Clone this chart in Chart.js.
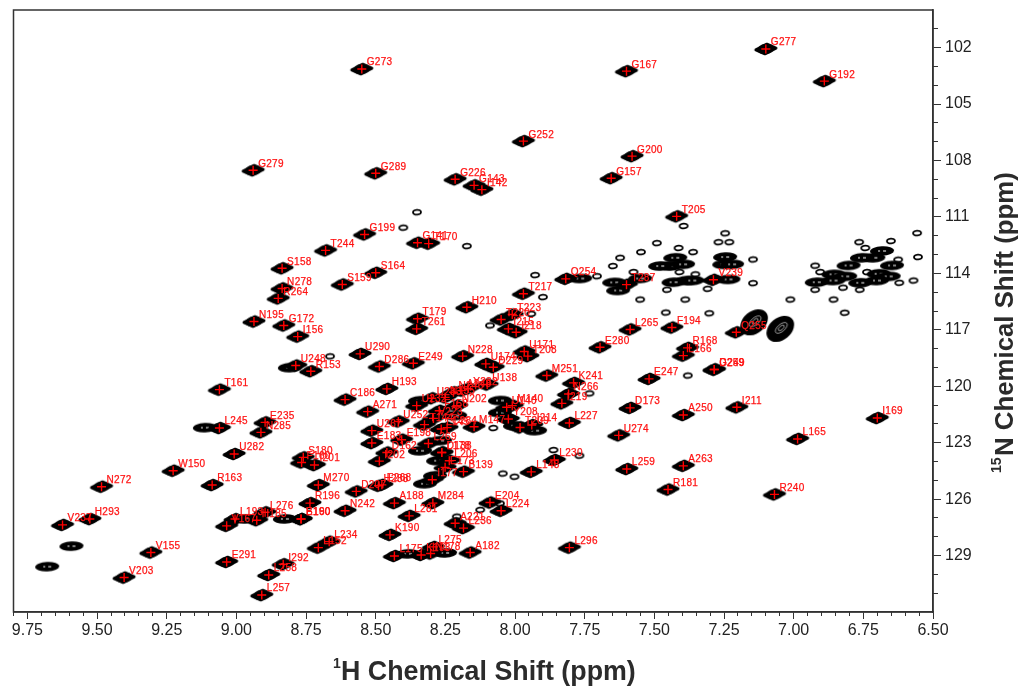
<!DOCTYPE html>
<html>
<head>
<meta charset="utf-8">
<title>HSQC</title>
<script src="https://cdn.jsdelivr.net/npm/chart.js@4"></script>
<style>
  html, body { margin: 0; padding: 0; background: #fff; }
  canvas { display: block; }
</style>
</head>
<body>
<canvas id="hsqc" width="1019" height="688"></canvas>
<script>
// assigned peaks
const peakNames = [
  'G277','G192','G273','G167','G252','G200','G157','G279','G289','G226',
  'G143','I142','T205','G199','G141','T170','T244','S158','S159','S164',
  'N278','R264','N195','G172','I156','U290','D286','E249','T179','T261',
  'H210','T217','Q254','T223','T220','I215','I218','U171','T208','N228',
  'U174','D229','M251','K241','N266','I219','H193','U138','C186','A271',
  'T161','L245','E235','N285','U282','R163','S180','F160','I201','M270',
  'R196','N242','D207','H288','E268','A188','M284','L281','K190','L175',
  'L275','K193','N178','A182','A221','L236','E204','L224','L296','L234',
  'L152','V167','L193','H185','L276','E160','B190','W150','N272','V237',
  'H293','V155','V203','E291','I292','L258','L257','T287','V239','L265',
  'F194','E280','Q255','R168','L166','D259','G249','E247','D173','A250',
  'I211','I169','L165','U274','L227','L259','A263','R181','R240','L230',
  'L148','U232','U252','U267','E183','E198','D162','I202','L269','L178',
  'D138','L206','E173','B139','I177','N246','N155','A248','Y232','N202',
  'U233','F158','V223','T144','L145','C284','M147','U140','M140','Y208',
  'T209','I214','U248','R153'
];
const peakH = [
  7.10,6.89,8.55,7.60,7.97,7.58,7.655,8.94,8.50,8.215,
  8.147,8.119,7.42,8.54,8.35,8.31,8.68,8.836,8.62,8.50,
  8.836,8.85,8.937,8.83,8.78,8.556,8.487,8.365,8.35,8.353,
  8.173,7.97,7.818,8.01,8.05,8.024,7.996,7.967,7.954,8.188,
  8.105,8.078,7.886,7.79,7.808,7.832,8.46,8.10,8.61,8.529,
  9.061,9.061,8.897,8.912,9.008,9.087,8.76,8.766,8.72,8.706,
  8.736,8.61,8.57,8.49,8.478,8.433,8.295,8.38,8.449,8.433,
  8.293,8.337,8.303,8.161,8.215,8.185,8.09,8.05,7.805,8.667,
  8.706,9.035,9.005,8.927,8.897,8.768,8.768,9.227,9.484,9.624,
  9.526,9.307,9.403,9.035,8.832,8.884,8.909,7.60,7.288,7.587,
  7.437,7.695,7.206,7.381,7.396,7.285,7.285,7.519,7.587,7.396,
  7.204,6.70,6.986,7.628,7.805,7.599,7.396,7.451,7.069,7.859,
  7.942,8.353,8.419,8.514,8.514,8.407,8.46,8.487,8.311,8.263,
  8.263,8.236,8.251,8.185,8.297,8.221,8.251,8.191,8.168,8.209,
  8.299,8.272,8.293,8.325,8.265,8.244,8.147,8.03,8.01,8.024,
  7.982,7.94,8.787,8.733
];
const peakN = [
  102.07,103.78,103.14,103.25,106.97,107.77,108.94,108.52,108.68,109.0,
  109.32,109.55,110.97,111.93,112.37,112.42,112.78,113.73,114.59,113.97,
  114.8,115.33,116.56,116.77,117.36,118.28,118.95,118.78,116.41,116.95,
  115.80,115.08,114.29,116.19,116.45,116.95,117.13,118.15,118.4,118.4,
  118.81,118.99,119.43,119.82,120.41,120.91,120.14,119.91,120.71,121.35,
  120.18,122.22,121.92,122.45,123.6,125.25,123.78,124.05,124.19,125.25,
  126.21,126.62,125.59,125.29,125.24,126.21,126.21,126.89,127.9,129.02,
  128.54,128.97,128.89,128.84,127.28,127.54,126.18,126.62,128.58,128.26,
  128.58,127.42,127.06,127.12,126.7,127.06,127.06,124.49,125.34,127.37,
  127.06,128.84,130.17,129.34,129.46,130.03,131.1,114.6,114.34,116.98,
  116.88,117.93,117.13,117.96,118.37,119.11,119.11,119.61,121.15,121.53,
  121.12,121.69,122.8,122.61,121.95,124.4,124.23,125.49,125.75,123.92,
  124.55,121.03,121.87,122.36,123.02,122.84,123.52,123.98,123.04,123.52,
  123.52,123.96,124.31,124.54,124.97,120.32,120.59,120.23,120.12,121.03,
  120.64,121.30,121.71,122.04,122.27,122.2,122.15,121.12,121.03,121.74,
  122.19,122.06,118.9,119.2
];

// weak unassigned contours
const weakH = [
  7.395,7.270,7.231,7.246,7.491,7.548,7.413,7.623,7.649,7.146,
  7.146,7.361,7.410,7.353,7.575,7.455,7.309,7.551,7.389,7.459,
  7.303,7.012,6.857,6.817,6.923,6.905,6.737,6.823,6.763,6.923,
  6.765,6.743,6.651,6.557,6.625,6.554,6.621,6.570,8.401,7.900,
  7.942,7.928,7.706,8.090,8.044,8.002,8.078,7.862,7.769,7.733,
  8.664,8.209,8.125,8.054,7.380,8.352,8.173
];
const weakN = [
  111.48,112.34,112.34,111.87,112.39,112.87,112.65,113.17,113.61,113.26,
  114.52,112.87,113.93,114.05,113.93,114.87,114.82,115.39,115.39,116.08,
  116.12,115.39,115.39,116.09,113.59,113.93,113.93,114.76,114.87,114.87,
  112.34,112.65,112.28,111.86,113.27,113.13,114.50,114.38,111.57,115.26,
  116.15,114.09,114.15,116.77,124.64,124.81,122.22,123.39,123.69,120.38,
  118.41,126.93,126.57,126.23,119.43,110.75,112.55
];

// stretched unassigned contours and the tails that join crowded peaks
const flatH = [
  7.425,7.443,7.397,7.246,7.249,7.383,7.431,7.234,6.803,6.857,
  6.815,6.917,6.857,6.647,6.695,6.659,6.701,6.761,6.714,6.755,
  6.683,9.592,9.679,7.479,7.364,7.221,7.644,7.630,7.551,7.766,
  8.341,8.269,8.276,8.287,8.323,8.215,8.341,8.054,8.054,7.928,
  8.0,8.808,9.113,8.826,8.969,8.384,8.251
];
const flatN = [
  113.17,113.61,113.52,113.13,113.52,114.38,114.47,114.32,113.58,114.05,
  114.16,114.47,114.38,113.58,114.02,114.16,114.38,114.50,113.17,113.17,
  112.81,128.5,129.59,113.61,114.38,113.52,114.48,114.91,114.27,114.27,
  123.43,122.89,123.96,124.76,125.18,121.56,120.77,120.76,121.40,122.36,
  122.1,119.01,122.20,127.05,127.05,128.91,128.86
];

// the two broad side-chain peaks
const broadH = [7.142, 7.048];
const broadN = [116.6, 116.95];

const xMajorTicks = [9.75,9.5,9.25,9,8.75,8.5,8.25,8,7.75,7.5,7.25,7,6.75,6.5];
const xMinorTicks = [
  9.8,9.7,9.65,9.6,9.55,9.45,9.4,9.35,9.3,9.2,9.15,9.1,9.05,8.95,8.9,8.85,8.8,
  8.7,8.65,8.6,8.55,8.45,8.4,8.35,8.3,8.2,8.15,8.1,8.05,7.95,7.9,7.85,7.8,
  7.7,7.65,7.6,7.55,7.45,7.4,7.35,7.3,7.2,7.15,7.1,7.05,6.95,6.9,6.85,6.8,
  6.7,6.65,6.6,6.55
];
const yMajorTicks = [102,105,108,111,114,117,120,123,126,129];
const yMinorTicks = [
  101,103,104,106,107,109,110,112,113,115,116,118,119,121,122,124,125,127,128,130,131
];

const xTitle = 'H Chemical Shift (ppm)';
const yTitle = 'N Chemical Shift (ppm)';

function toPoints(xs, ys) {
  return xs.map((x, i) => ({ x: x, y: ys[i] }));
}

function makeSprite(w, h, paint) {
  const c = document.createElement('canvas');
  c.width = w;
  c.height = h;
  const g = c.getContext('2d');
  g.translate(w / 2, h / 2);
  paint(g);
  return c;
}

// solid slanted rhombus, the saturated contours of a strong peak
const peakSprite = makeSprite(30, 20, g => {
  g.fillStyle = '#000';
  g.strokeStyle = '#000';
  g.lineWidth = 3;
  g.lineJoin = 'round';
  g.beginPath();
  g.moveTo(-10, 0.8);
  g.lineTo(1, -4.8);
  g.lineTo(10, -0.8);
  g.lineTo(-1, 4.8);
  g.closePath();
  g.fill();
  g.stroke();
  g.beginPath();
  g.ellipse(0, 0, 8.5, 5.2, -0.15, 0, Math.PI * 2);
  g.fill();
});

const weakSprite = makeSprite(16, 12, g => {
  g.strokeStyle = '#000';
  g.lineWidth = 1.8;
  g.beginPath();
  g.ellipse(0, 0, 4, 2.4, -0.1, 0, Math.PI * 2);
  g.stroke();
});

const flatSprite = makeSprite(30, 14, g => {
  g.fillStyle = '#000';
  g.beginPath();
  g.ellipse(0, 0, 12, 4.8, -0.05, 0, Math.PI * 2);
  g.fill();
  g.fillStyle = '#fff';
  g.fillRect(-4, -0.5, 2, 1);
  g.fillRect(1, -0.5, 3, 1);
});

const broadSprite = makeSprite(44, 40, g => {
  g.fillStyle = '#000';
  g.beginPath();
  g.ellipse(0, 0, 15.5, 11, -0.7, 0, Math.PI * 2);
  g.fill();
  g.strokeStyle = '#fff';
  g.lineWidth = 0.6;
  for (let r = 3; r < 9; r += 3) {
    g.beginPath();
    g.ellipse(1, -1, r * 1.2, r * 0.6, -0.7, 0, Math.PI * 2);
    g.stroke();
  }
});

// frame on all four sides
const framePlugin = {
  id: 'frame',
  afterDatasetsDraw(chart) {
    const a = chart.chartArea;
    const ctx = chart.ctx;
    ctx.save();
    ctx.strokeStyle = '#333';
    ctx.lineWidth = 1.5;
    ctx.strokeRect(a.left, a.top, a.right - a.left, a.bottom - a.top);
    ctx.restore();
  }
};

// residue names next to their crosses
const peakLabelPlugin = {
  id: 'peakLabels',
  afterDraw(chart) {
    const ctx = chart.ctx;
    const meta = chart.getDatasetMeta(chart.data.datasets.findIndex(d => d.label === 'crosses'));
    ctx.save();
    ctx.fillStyle = '#ff1414';
    ctx.strokeStyle = '#ff1414';
    ctx.lineWidth = 0.25;
    ctx.font = '10px "Liberation Sans"';
    ctx.letterSpacing = '0.3px';
    ctx.textBaseline = 'alphabetic';
    meta.data.forEach((pt, i) => {
      ctx.fillText(peakNames[i], pt.x + 5, pt.y - 3.6);
      ctx.strokeText(peakNames[i], pt.x + 5, pt.y - 3.6);
    });
    ctx.restore();
  }
};

// axis titles sit off centre in the original, with superscript isotopes
const axisTitlePlugin = {
  id: 'axisTitles',
  afterDraw(chart) {
    const ctx = chart.ctx;
    ctx.save();
    ctx.fillStyle = '#2b2b2b';
    ctx.textBaseline = 'alphabetic';
    ctx.font = 'bold 14px "Liberation Sans"';
    ctx.fillText('1', 333, 668);
    ctx.font = 'bold 26.8px "Liberation Sans"';
    ctx.fillText(xTitle, 341, 680);
    ctx.translate(1013, 473);
    ctx.rotate(-Math.PI / 2);
    ctx.font = 'bold 14px "Liberation Sans"';
    ctx.fillText('15', 0, -12);
    ctx.font = 'bold 25.8px "Liberation Sans"';
    ctx.fillText(yTitle, 17, 0);
    ctx.restore();
  }
};

new Chart(document.getElementById('hsqc').getContext('2d'), {
  type: 'scatter',
  data: {
    datasets: [
      { label: 'crosses', data: toPoints(peakH, peakN), pointStyle: 'cross', pointRadius: 4.5,
        borderColor: '#ff0000', borderWidth: 1.4, order: 0 },
      { label: 'peaks', data: toPoints(peakH, peakN), pointStyle: peakSprite, order: 1 },
      { label: 'flat', data: toPoints(flatH, flatN), pointStyle: flatSprite, order: 2 },
      { label: 'weak', data: toPoints(weakH, weakN), pointStyle: weakSprite, order: 3 },
      { label: 'broad', data: toPoints(broadH, broadN), pointStyle: broadSprite, order: 4 }
    ]
  },
  options: {
    responsive: false,
    animation: false,
    events: [],
    layout: { padding: { left: 13.5, top: 10, right: 0, bottom: 0 } },
    plugins: { legend: { display: false }, tooltip: { enabled: false } },
    scales: {
      xMinor: {
        type: 'linear', axis: 'x', position: 'bottom', reverse: true, min: 6.5, max: 9.8,
        afterBuildTicks: s => { s.ticks = xMinorTicks.map(v => ({ value: v })); },
        afterFit: s => { s.height = 0; s.paddingLeft = 0; s.paddingRight = 0; },
        ticks: { display: false },
        grid: { drawOnChartArea: false, tickLength: 4, tickColor: '#333', tickWidth: 1 },
        border: { display: false }
      },
      x: {
        type: 'linear', position: 'bottom', reverse: true, min: 6.5, max: 9.8,
        afterBuildTicks: s => { s.ticks = xMajorTicks.map(v => ({ value: v })); },
        afterFit: s => { s.height = 76; s.paddingLeft = 0; s.paddingRight = 0; },
        ticks: {
          autoSkip: false, maxRotation: 0, color: '#222', padding: 2,
          font: { family: 'Liberation Sans', size: 16 },
          callback: v => v.toFixed(2)
        },
        grid: { drawOnChartArea: false, tickLength: 7, tickColor: '#333', tickWidth: 1 },
        border: { color: '#333', width: 1.5 }
      },
      yMinor: {
        type: 'linear', axis: 'y', position: 'right', reverse: true, min: 100, max: 132,
        afterBuildTicks: s => { s.ticks = yMinorTicks.map(v => ({ value: v })); },
        afterFit: s => { s.width = 0; s.paddingTop = 0; s.paddingBottom = 0; },
        ticks: { display: false },
        grid: { drawOnChartArea: false, tickLength: 5, tickColor: '#333', tickWidth: 1 },
        border: { display: false }
      },
      y: {
        type: 'linear', position: 'right', reverse: true, min: 100, max: 132,
        afterBuildTicks: s => { s.ticks = yMajorTicks.map(v => ({ value: v })); },
        afterFit: s => { s.width = 86; s.paddingTop = 0; s.paddingBottom = 0; },
        ticks: {
          autoSkip: false, color: '#222', padding: 4,
          font: { family: 'Liberation Sans', size: 16 },
          callback: v => String(v)
        },
        grid: { drawOnChartArea: false, tickLength: 8, tickColor: '#333', tickWidth: 1 },
        border: { color: '#333', width: 1.5 }
      }
    }
  },
  plugins: [framePlugin, peakLabelPlugin, axisTitlePlugin]
});
</script>
</body>
</html>
